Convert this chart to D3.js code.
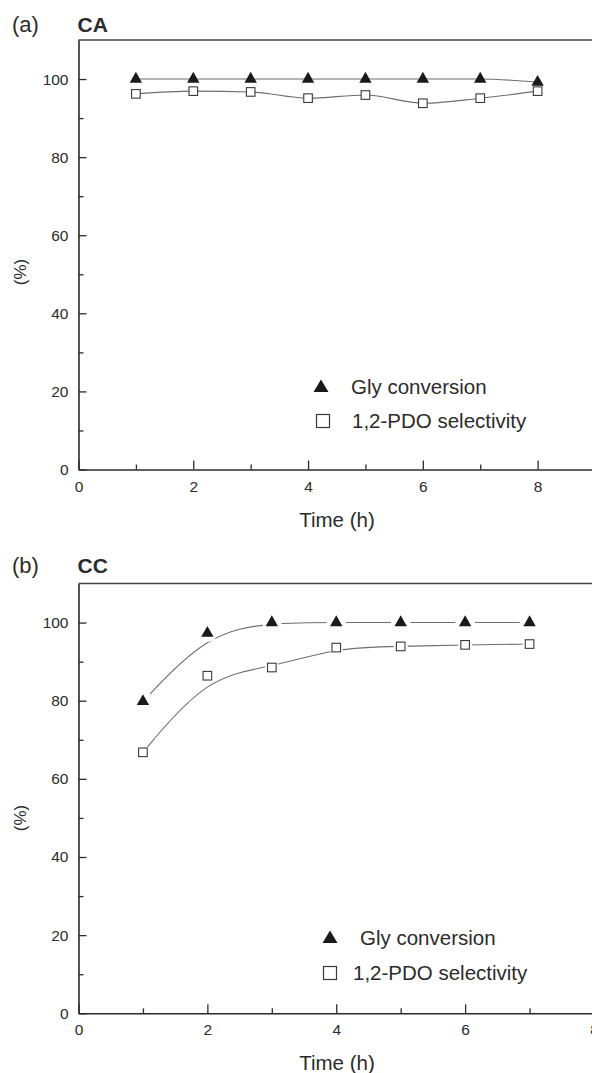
<!DOCTYPE html>
<html>
<head>
<meta charset="utf-8">
<script src="https://cdn.jsdelivr.net/npm/d3@7"></script>
<style>
  body { margin: 0; background: #fff; }
  svg { display: block; font-family: "Liberation Sans", Arial, sans-serif; }
</style>
</head>
<body>
<svg id="chart" width="592" height="1073"></svg>
<script>
// Panel (a) CA
const timeA = [1, 2, 3, 4, 5, 6, 7, 8];
const convA = [100, 100, 100, 100, 100, 100, 100, 99.2];
const selA = [96.2, 96.9, 96.7, 95.1, 95.9, 93.8, 95.1, 96.9];

// Panel (b) CC
const timeB = [1, 2, 3, 4, 5, 6, 7];
const convB = [79.8, 97.3, 100, 100, 100, 100, 100];
const selB = [66.8, 86.4, 88.5, 93.6, 93.9, 94.3, 94.5];

const yTicks = [0, 20, 40, 60, 80, 100];
const yMinor = [10, 30, 50, 70, 90];
const xTicks = [0, 2, 4, 6, 8];
const xMinor = [1, 3, 5, 7];
const seriesNames = ["Gly conversion", "1,2-PDO selectivity"];

const svg = d3.select("#chart");
const ink = "#2b2b2b";
const lineCol = "#6e6e6e";

function drawPanel(p) {
    const x = d3.scaleLinear().domain([0, p.xMax]).range([78.5, p.xRight]);
    const y = d3.scaleLinear().domain([0, 110]).range([p.bottom, p.top]);
    const g = svg.append("g");

    // Panel tags
    g.append("text").attr("x", 12).attr("y", p.tagY)
        .attr("font-size", 22).attr("fill", ink).text(p.tag);
    g.append("text").attr("x", 77.5).attr("y", p.tagY)
        .attr("font-size", 21).attr("font-weight", "bold").attr("fill", ink).text(p.title);

    // Top frame line
    g.append("line")
        .attr("x1", x(0)).attr("x2", 592)
        .attr("y1", y(110)).attr("y2", y(110))
        .attr("stroke", "#444").attr("stroke-width", 1.4);

    // Y axis
    g.append("g").attr("transform", `translate(${x(0)},0)`)
        .call(d3.axisLeft(y).tickValues(yTicks).tickSize(-8).tickSizeOuter(0).tickPadding(10));
    g.append("g").attr("transform", `translate(${x(0)},0)`)
        .call(d3.axisLeft(y).tickValues(yMinor).tickSize(-5).tickSizeOuter(0).tickFormat(""))
        .select(".domain").remove();

    // X axis
    g.append("g").attr("transform", `translate(0,${y(0)})`)
        .call(d3.axisBottom(x).tickValues(xTicks).tickSize(-9).tickSizeOuter(0).tickPadding(11));
    g.append("g").attr("transform", `translate(0,${y(0)})`)
        .call(d3.axisBottom(x).tickValues(xMinor).tickSize(-5).tickSizeOuter(0).tickFormat(""))
        .select(".domain").remove();

    g.selectAll(".domain").attr("stroke", ink).attr("stroke-width", 1.6);
    g.selectAll(".tick line").attr("stroke", ink).attr("stroke-width", 1.3);
    g.selectAll(".tick text").attr("font-size", 15.5).attr("fill", ink)
        .attr("font-family", "Liberation Sans, Arial, sans-serif");

    // Axis titles
    g.append("text").attr("x", p.timeX).attr("y", y(0) + 57)
        .attr("text-anchor", "middle").attr("font-size", 20.5).attr("fill", ink).text("Time (h)");
    g.append("text")
        .attr("transform", `translate(26,${p.pctY}) rotate(-90)`)
        .attr("text-anchor", "middle").attr("font-size", 17).attr("fill", ink).text("(%)");

    // Lines
    const mk = (xs, ys) => xs.map((t, i) => [t, ys[i]]);
    const conv = mk(p.time, p.conv);
    const sel = mk(p.time, p.sel);
    const line = d3.line().x(d => x(d[0])).y(d => y(d[1])).curve(p.curve);
    [conv, sel].forEach(pts => {
        g.append("path").datum(pts).attr("d", line)
            .attr("fill", "none").attr("stroke", lineCol).attr("stroke-width", 1.1);
    });

    // Gaps around markers (panel b)
    if (p.gaps) {
        g.selectAll(null).data(conv).enter().append("circle")
            .attr("cx", d => x(d[0])).attr("cy", d => y(d[1]) - 1)
            .attr("r", 10).attr("fill", "#fff");
        g.selectAll(null).data(sel).enter().append("circle")
            .attr("cx", d => x(d[0])).attr("cy", d => y(d[1]))
            .attr("r", 7).attr("fill", "#fff");
    }

    // Markers
    const tri = "M0,-7.2L6.2,3.6L-6.2,3.6Z";
    g.selectAll(null).data(conv).enter().append("path")
        .attr("transform", d => `translate(${x(d[0])},${y(d[1])})`)
        .attr("d", tri).attr("fill", "#1a1a1a");
    g.selectAll(null).data(sel).enter().append("rect")
        .attr("x", d => x(d[0]) - 4.3).attr("y", d => y(d[1]) - 4.3)
        .attr("width", 8.6).attr("height", 8.6)
        .attr("fill", "#fff").attr("stroke", "#3a3a3a").attr("stroke-width", 1.1);

    // Legend
    const lg = g.append("g");
    lg.append("path").attr("transform", `translate(${p.leg.tx},${p.leg.ty})`)
        .attr("d", "M0,-7.5L7.5,5L-7.5,5Z").attr("fill", "#1a1a1a");
    lg.append("text").attr("x", p.leg.t1x).attr("y", p.leg.ty + 6.5)
        .attr("font-size", 20.5).attr("fill", ink).text(seriesNames[0]);
    lg.append("rect").attr("x", p.leg.sx - 6.5).attr("y", p.leg.sy - 6.5)
        .attr("width", 13).attr("height", 13)
        .attr("fill", "#fff").attr("stroke", "#3a3a3a").attr("stroke-width", 1.2);
    lg.append("text").attr("x", p.leg.t2x).attr("y", p.leg.sy + 7)
        .attr("font-size", 20.5).attr("fill", ink).text(seriesNames[1]);
}

drawPanel({
    tag: "(a)", title: "CA", top: 40, bottom: 469.5, xMax: 9, xRight: 595, tagY: 32,
    time: timeA, conv: convA, sel: selA, curve: d3.curveMonotoneX, gaps: false,
    timeX: 337, pctY: 272,
    leg: {tx: 321, ty: 387, t1x: 351, sx: 323, sy: 421, t2x: 352}
});

drawPanel({
    tag: "(b)", title: "CC", top: 583.5, bottom: 1013.3, xMax: 8, xRight: 594, tagY: 573,
    time: timeB, conv: convB, sel: selB, curve: d3.curveBasis, gaps: true,
    timeX: 337, pctY: 818,
    leg: {tx: 330, ty: 938, t1x: 360, sx: 330, sy: 973, t2x: 353}
});
</script>
</body>
</html>
